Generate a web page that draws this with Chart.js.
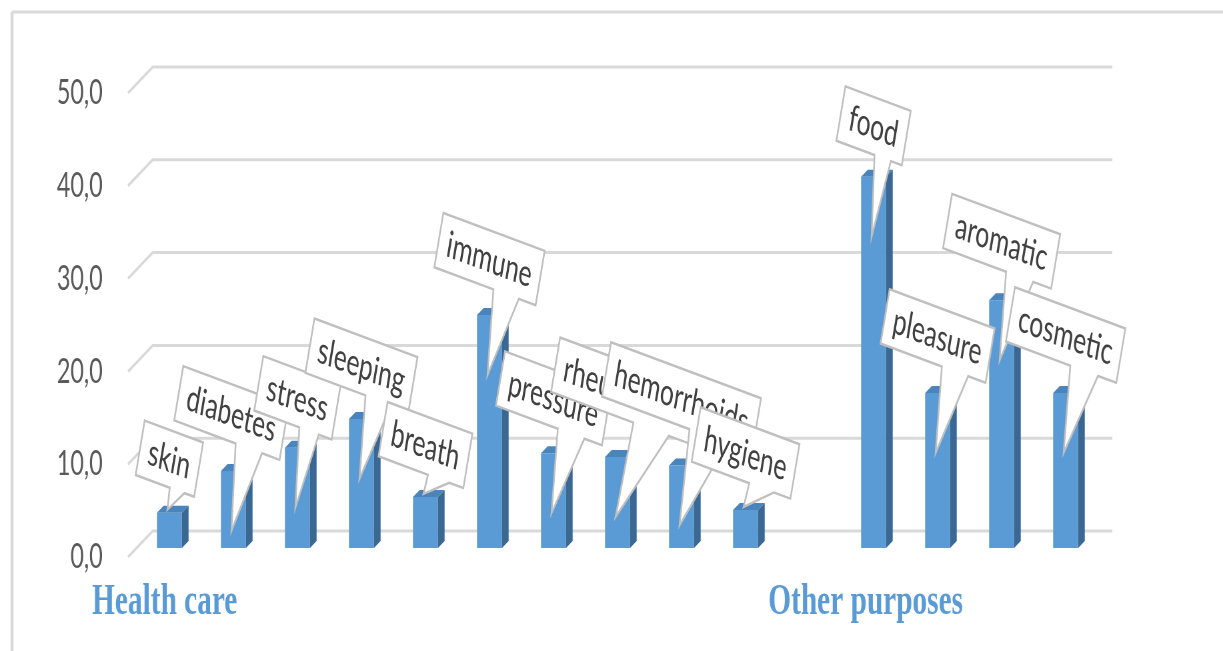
<!DOCTYPE html>
<html lang="en">
<head>
<meta charset="UTF-8">
<title>Plant uses</title>
<script src="https://cdn.jsdelivr.net/npm/chart.js"></script>
<style>
body { margin: 0; background: #fff; overflow: hidden; }
#chart { display: block; }
</style>
</head>
<body>
<canvas id="chart" width="1834" height="651" style="width:1223px;height:651px"></canvas>
<script>
// the source picture is squeezed sideways, so draw wide and show it at 1223px
const categories = ['skin', 'diabetes', 'stress', 'sleeping', 'breath', 'immune', 'pressure',
  'rheumatism', 'hemorrhoids', 'hygiene', '', 'food', 'pleasure', 'aromatic', 'cosmetic'];
const shares = [3.8, 8.3, 10.8, 13.9, 5.5, 25.1, 10.2, 9.8, 8.9, 4.1, null, 40.0, 16.7, 26.7, 16.7];
const yTicks = [0, 10, 20, 30, 40, 50];
const groupNames = ['Health care', 'Other purposes'];
const groupAt = [0, 10];

// callout placement (px above the bar top, sideways nudge)
const calloutLift = [54, 58, 50, 54, 52, 56, 55, 66, 68, 57, 0, 51, 57, 59, 58];
const calloutNudge = [0, -3, 0, 0, 0, 0, 0, 13, 0, 0, 0, 0, 0, 0, 0];
const groupLabelOffset = [-116, -62];

const BLUE = '#5B9BD5';
const SIDE = '#3A6893';
const TOP = '#4A84BD';
const GRID = '#D9D9D9';
const ANGLE = 14 * Math.PI / 180;

function drawCallout(ctx, cx, cy, tipX, tipY, text) {
  ctx.save();
  ctx.font = '37px Lato';
  const w = ctx.measureText(text).width + 26;
  const h = 56;
  const dx = tipX - cx, dy = tipY - cy;
  const lx = dx * Math.cos(ANGLE) + dy * Math.sin(ANGLE);
  const ly = -dx * Math.sin(ANGLE) + dy * Math.cos(ANGLE);
  ctx.translate(cx, cy);
  ctx.rotate(ANGLE);
  const l = -w / 2, r = w / 2, t = -h / 2, b = h / 2;
  const xg = lx > 0 ? [7, 10] : [2, 5];
  const x1 = l + w * xg[0] / 12, x2 = l + w * xg[1] / 12;
  ctx.beginPath();
  ctx.moveTo(l, t);
  ctx.lineTo(r, t);
  ctx.lineTo(r, b);
  ctx.lineTo(x2, b);
  ctx.lineTo(lx, ly);
  ctx.lineTo(x1, b);
  ctx.lineTo(l, b);
  ctx.closePath();
  ctx.fillStyle = '#fff';
  ctx.fill();
  ctx.strokeStyle = '#BFBFBF';
  ctx.lineWidth = 2.5;
  ctx.stroke();
  ctx.fillStyle = '#404040';
  ctx.textAlign = 'center';
  ctx.textBaseline = 'middle';
  ctx.fillText(text, 0, 1);
  ctx.restore();
}

const wallPlugin = {
  id: 'wall',
  beforeDraw(chart) {
    const ctx = chart.ctx;
    ctx.save();
    ctx.strokeStyle = GRID;
    ctx.lineWidth = 3;
    ctx.beginPath();
    ctx.moveTo(18, 12);
    ctx.lineTo(chart.width, 12);
    ctx.stroke();
    ctx.lineWidth = 4.5;
    ctx.beginPath();
    ctx.moveTo(18, 12);
    ctx.lineTo(18, chart.height);
    ctx.stroke();
    ctx.restore();
  },
  beforeDatasetsDraw(chart) {
    const ctx = chart.ctx;
    const y = chart.scales.y;
    const area = chart.chartArea;
    ctx.save();
    ctx.strokeStyle = GRID;
    ctx.lineWidth = 3;
    y.ticks.forEach(t => {
      const py = y.getPixelForValue(t.value);
      ctx.beginPath();
      ctx.moveTo(area.left - 14, py + 9);
      ctx.lineTo(area.left + 23, py - 17);
      ctx.lineTo(area.right + 22, py - 17);
      ctx.stroke();
    });
    ctx.restore();
  },
  afterDatasetsDraw(chart) {
    const ctx = chart.ctx;
    const bars = chart.getDatasetMeta(0).data;
    const dx = 10, dy = -7;
    ctx.save();
    bars.forEach((bar, i) => {
      if (shares[i] == null) return;
      const {x, y, base, width} = bar.getProps(['x', 'y', 'base', 'width'], true);
      const r = x + width / 2, l = x - width / 2;
      ctx.fillStyle = SIDE;
      ctx.beginPath();
      ctx.moveTo(r, y);
      ctx.lineTo(r + dx, y + dy);
      ctx.lineTo(r + dx, base + dy);
      ctx.lineTo(r, base);
      ctx.closePath();
      ctx.fill();
      ctx.fillStyle = TOP;
      ctx.beginPath();
      ctx.moveTo(l, y);
      ctx.lineTo(l + dx, y + dy);
      ctx.lineTo(r + dx, y + dy);
      ctx.lineTo(r, y);
      ctx.closePath();
      ctx.fill();
    });
    bars.forEach((bar, i) => {
      if (shares[i] == null) return;
      const {x, y, base} = bar.getProps(['x', 'y', 'base'], true);
      const drop = base - y > 65 ? 60 : -3;
      drawCallout(ctx, x + calloutNudge[i], y - calloutLift[i], x - 3, y + drop, categories[i]);
    });
    ctx.restore();
  },
  afterDraw(chart) {
    const ctx = chart.ctx;
    const xs = chart.scales.x;
    ctx.save();
    ctx.font = 'bold 44px "Liberation Serif"';
    ctx.fillStyle = BLUE;
    ctx.textBaseline = 'middle';
    groupNames.forEach((name, i) => {
      ctx.fillText(name, xs.getPixelForValue(groupAt[i]) + groupLabelOffset[i], 603);
    });
    ctx.restore();
  }
};

new Chart(document.getElementById('chart'), {
  type: 'bar',
  data: {
    labels: categories,
    datasets: [{
      data: shares,
      backgroundColor: BLUE,
      barPercentage: 0.39,
      categoryPercentage: 1
    }]
  },
  options: {
    responsive: false,
    animation: false,
    layout: { padding: { left: 0, top: 84, right: 188, bottom: 103 } },
    plugins: { legend: { display: false }, tooltip: { enabled: false } },
    scales: {
      x: { display: false },
      y: {
        min: 0,
        max: 50,
        afterBuildTicks: s => { s.ticks = yTicks.map(v => ({ value: v })); },
        afterFit: s => { s.width = 206; },
        grid: { display: false },
        border: { display: false },
        ticks: {
          padding: 44,
          labelOffset: 9,
          color: '#595959',
          font: { family: 'Lato', size: 35 },
          callback: v => v.toFixed(1).replace('.', ',')
        }
      }
    }
  },
  plugins: [wallPlugin]
});
</script>
</body>
</html>
